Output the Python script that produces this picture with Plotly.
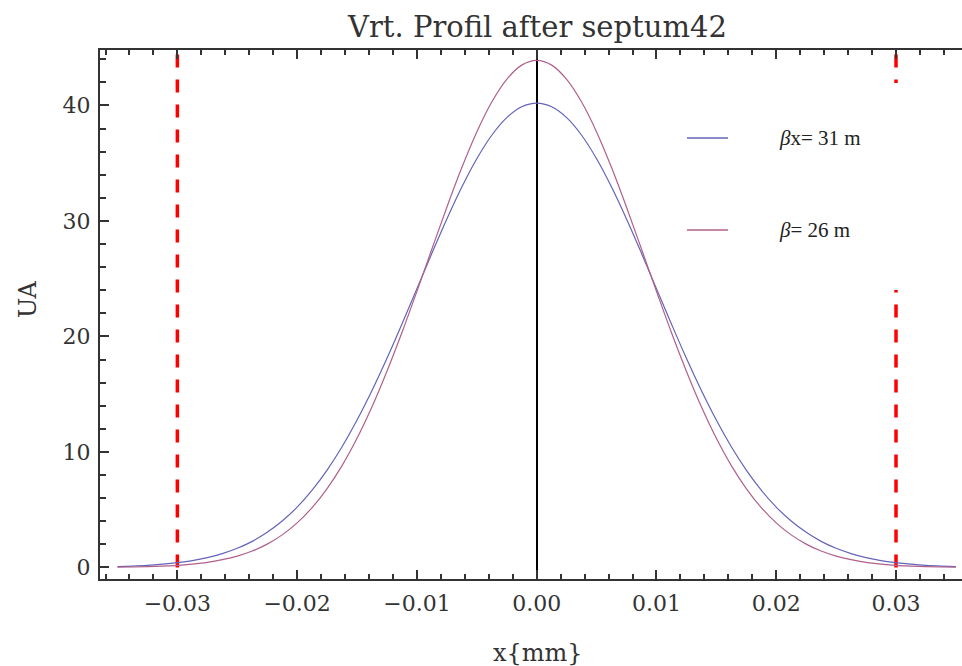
import plotly.graph_objects as go

# Beam profile samples (transverse position in mm vs. arbitrary units)
x_mm = [-0.035, -0.03375, -0.0325, -0.03125, -0.03, -0.02875, -0.0275, -0.02625,
        -0.025, -0.02375, -0.0225, -0.02125, -0.02, -0.01875, -0.0175, -0.01625,
        -0.015, -0.01375, -0.0125, -0.01125, -0.01, -0.00875, -0.0075, -0.00625,
        -0.005, -0.00375, -0.0025, -0.00125, 0.0,
        0.00125, 0.0025, 0.00375, 0.005, 0.00625, 0.0075, 0.00875, 0.01, 0.01125,
        0.0125, 0.01375, 0.015, 0.01625, 0.0175, 0.01875, 0.02, 0.02125, 0.0225,
        0.02375, 0.025, 0.02625, 0.0275, 0.02875, 0.03, 0.03125, 0.0325, 0.03375,
        0.035]
ua_beta31 = [0.08, 0.12, 0.18, 0.28, 0.41, 0.59, 0.85, 1.20, 1.66, 2.26, 3.04, 4.02,
             5.22, 6.69, 8.43, 10.45, 12.76, 15.32, 18.11, 21.08, 24.14, 27.20, 30.17,
             32.94, 35.39, 37.42, 38.94, 39.88, 40.2,
             39.88, 38.94, 37.42, 35.39, 32.94, 30.17, 27.20, 24.14, 21.08, 18.11,
             15.32, 12.76, 10.45, 8.43, 6.69, 5.22, 4.02, 3.04, 2.26, 1.66, 1.20, 0.85,
             0.59, 0.41, 0.28, 0.18, 0.12, 0.08]
ua_beta26 = [0.03, 0.04, 0.07, 0.12, 0.18, 0.29, 0.44, 0.67, 0.98, 1.42, 2.02, 2.82,
             3.86, 5.18, 6.83, 8.82, 11.18, 13.91, 16.99, 20.34, 23.91, 27.57, 31.19,
             34.62, 37.71, 40.30, 42.26, 43.49, 43.9,
             43.49, 42.26, 40.30, 37.71, 34.62, 31.19, 27.57, 23.91, 20.34, 16.99,
             13.91, 11.18, 8.82, 6.83, 5.18, 3.86, 2.82, 2.02, 1.42, 0.98, 0.67, 0.44,
             0.29, 0.18, 0.12, 0.07, 0.04, 0.03]

# Septum aperture limits
aperture_x = [-0.03, 0.03]
aperture_y = [0, 45]

legend_names = ["βx= 31 m", "β= 26 m"]
colors = ["#6464b8", "#b0608a"]

W, H = 962, 666
ML, MR, MT, MB = 100, 0, 50, 87
PW, PH = W - ML - MR, H - MT - MB


def px_x(p):
    return (p - ML) / PW


def px_y(p):
    return (H - MB - p) / PH


fig = go.Figure()

for xa in aperture_x:
    fig.add_trace(go.Scatter(
        x=[xa, xa], y=aperture_y, mode="lines", showlegend=False,
        line=dict(color="#ff0000", width=3.5, dash="13px,12px"), hoverinfo="skip"))

for yv, name, col in [(ua_beta31, legend_names[0], colors[0]),
                      (ua_beta26, legend_names[1], colors[1])]:
    fig.add_trace(go.Scatter(
        x=x_mm, y=yv, mode="lines", name=name, showlegend=False,
        line=dict(color=col, width=1.2, shape="spline", smoothing=1.0)))

tick_font = dict(family="DejaVu Serif", size=22, color="#333333")

fig.update_xaxes(
    range=[-0.03646, 0.03551], showline=True, linecolor="#333333", linewidth=2,
    mirror="allticks", ticks="inside", ticklen=9, tickwidth=1.5, tickcolor="#333333",
    dtick=0.01, tick0=0, tickformat=".2f", tickfont=tick_font, showgrid=False,
    zeroline=True, zerolinecolor="#000000", zerolinewidth=1.5,
    minor=dict(dtick=0.002, tick0=0, ticks="inside", ticklen=5, tickwidth=1.5,
               tickcolor="#333333", showgrid=False),
    ticklabelstandoff=4)

fig.update_yaxes(
    range=[-1.0, 44.8], showline=True, linecolor="#333333", linewidth=2,
    mirror=False, ticks="inside", ticklen=9, tickwidth=1.5, tickcolor="#333333",
    dtick=10, tick0=0, tickfont=tick_font, showgrid=False, zeroline=False,
    minor=dict(dtick=2, tick0=0, ticks="inside", ticklen=6, tickwidth=1.5,
               tickcolor="#333333", showgrid=False),
    ticklabelstandoff=3)

shapes = [
    # legend panel
    dict(type="rect", xref="paper", yref="paper", x0=px_x(668), x1=1.0,
         y0=px_y(290), y1=px_y(83), fillcolor="white", line=dict(width=0),
         layer="above"),
]
annotations = [
    dict(text="Vrt. Profil after septum42", xref="paper", yref="paper",
         x=px_x(536.5), y=px_y(27), xanchor="center", yanchor="middle",
         showarrow=False, font=dict(family="DejaVu Serif", size=29, color="#333333")),
    dict(text="x{mm}", xref="paper", yref="paper", x=px_x(537.5), y=px_y(653),
         xanchor="center", yanchor="middle", showarrow=False,
         font=dict(family="DejaVu Serif", size=24, color="#333333")),
    dict(text="UA", xref="paper", yref="paper", x=px_x(28), y=px_y(300),
         xanchor="center", yanchor="middle", textangle=-90, showarrow=False,
         font=dict(family="DejaVu Serif", size=24, color="#333333")),
]
for name, col, ly in zip(legend_names, colors, [138, 230]):
    shapes.append(dict(type="line", xref="paper", yref="paper", x0=px_x(687),
                       x1=px_x(728), y0=px_y(ly), y1=px_y(ly),
                       line=dict(color=col, width=1.3), layer="above"))
    annotations.append(dict(
        text=name.replace("β", "<i>β</i>"), xref="paper", yref="paper",
        x=px_x(777), y=px_y(ly), xanchor="left", yanchor="middle", showarrow=False,
        font=dict(family="Liberation Serif", size=21, color="#222222")))

fig.update_layout(
    width=W, height=H, margin=dict(l=ML, r=MR, t=MT, b=MB, autoexpand=False),
    paper_bgcolor="white", plot_bgcolor="white", showlegend=False,
    shapes=shapes, annotations=annotations)

fig.write_html("out.html")
